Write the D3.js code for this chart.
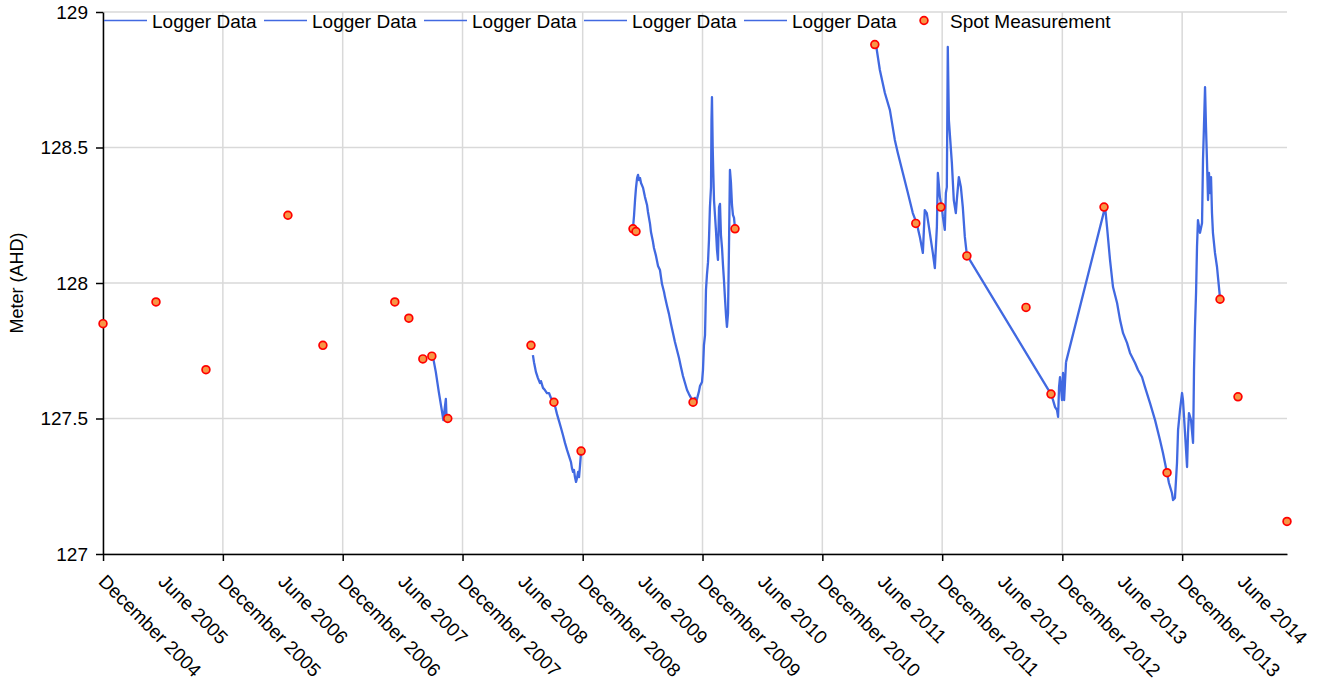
<!DOCTYPE html>
<html>
<head>
<meta charset="utf-8">
<script src="https://cdn.jsdelivr.net/npm/d3@7"></script>
<style>
  body { margin: 0; background: #fff; }
  svg { font-family: Arial, "Liberation Sans", sans-serif; }
</style>
</head>
<body>
<div id="chart"></div>
<script>
const spotYears = [2004.915, 2005.357, 2005.774, 2006.458, 2006.750, 2007.350, 2007.467, 2007.584, 2007.659, 2007.792,
  2008.485, 2008.676, 2008.902, 2009.335, 2009.360, 2009.836, 2010.186, 2011.353, 2011.695, 2011.904,
  2012.121, 2012.613, 2012.821, 2013.263, 2013.789, 2014.231, 2014.381, 2014.790];
const spotLevels = [127.85, 127.93, 127.68, 128.25, 127.77, 127.93, 127.87, 127.72, 127.73, 127.50,
  127.77, 127.56, 127.38, 128.20, 128.19, 127.56, 128.20, 128.88, 128.22, 128.28,
  128.10, 127.91, 127.59, 128.28, 127.30, 127.94, 127.58, 127.12];

const logger1Years = [2007.667, 2007.692, 2007.717, 2007.742, 2007.755, 2007.767, 2007.776, 2007.780, 2007.784, 2007.792];
const logger1Levels = [127.731, 127.672, 127.598, 127.531, 127.494, 127.539, 127.572, 127.524, 127.491, 127.502];

const logger2Years = [2008.501, 2008.510, 2008.518, 2008.526, 2008.543, 2008.560, 2008.568, 2008.585, 2008.601, 2008.618,
  2008.635, 2008.651, 2008.668, 2008.685, 2008.701, 2008.718, 2008.735, 2008.751, 2008.768, 2008.785,
  2008.801, 2008.818, 2008.826, 2008.835, 2008.843, 2008.851, 2008.860, 2008.868, 2008.877, 2008.885,
  2008.893, 2008.902];
const logger2Levels = [127.734, 127.708, 127.690, 127.672, 127.649, 127.631, 127.638, 127.613, 127.605, 127.594,
  127.594, 127.576, 127.565, 127.546, 127.517, 127.491, 127.465, 127.439, 127.410, 127.384,
  127.362, 127.339, 127.317, 127.303, 127.310, 127.284, 127.266, 127.280, 127.303, 127.284,
  127.325, 127.376];

const logger3Years = [2009.335, 2009.344, 2009.352, 2009.360, 2009.369, 2009.377, 2009.385, 2009.394, 2009.402, 2009.419,
  2009.435, 2009.452, 2009.460, 2009.477, 2009.485, 2009.502, 2009.510, 2009.527, 2009.544, 2009.560,
  2009.577, 2009.594, 2009.602, 2009.619, 2009.635, 2009.652, 2009.669, 2009.685, 2009.702, 2009.719,
  2009.735, 2009.752, 2009.769, 2009.786, 2009.802, 2009.819, 2009.827, 2009.836, 2009.852, 2009.861,
  2009.869, 2009.886, 2009.894, 2009.911, 2009.919, 2009.927, 2009.936, 2009.944, 2009.952, 2009.961,
  2009.969, 2009.977, 2009.986, 2009.990, 2009.994, 2010.000, 2010.005, 2010.011, 2010.019, 2010.028,
  2010.036, 2010.044, 2010.053, 2010.061, 2010.069, 2010.078, 2010.086, 2010.094, 2010.102, 2010.111,
  2010.119, 2010.128, 2010.136, 2010.144, 2010.152, 2010.161, 2010.169, 2010.178, 2010.186];
const logger3Levels = [128.203, 128.251, 128.306, 128.351, 128.387, 128.399, 128.380, 128.387, 128.369, 128.351,
  128.317, 128.288, 128.262, 128.218, 128.188, 128.151, 128.129, 128.100, 128.063, 128.048,
  127.996, 127.967, 127.948, 127.915, 127.886, 127.849, 127.815, 127.782, 127.753, 127.723,
  127.690, 127.657, 127.631, 127.605, 127.590, 127.576, 127.554, 127.561, 127.576, 127.557,
  127.572, 127.601, 127.620, 127.635, 127.679, 127.771, 127.808, 127.974, 128.030, 128.077,
  128.159, 128.280, 128.354, 128.601, 128.686, 128.502, 128.406, 128.306, 128.251, 128.188,
  128.122, 128.085, 128.280, 128.292, 128.177, 128.129, 128.066, 128.011, 127.948, 127.882,
  127.838, 127.889, 128.133, 128.417, 128.373, 128.288, 128.251, 128.240, 128.203];

const logger4Years = [2011.362, 2011.395, 2011.437, 2011.479, 2011.520, 2011.545, 2011.587, 2011.629, 2011.670, 2011.704,
  2011.729, 2011.754, 2011.770, 2011.787, 2011.812, 2011.837, 2011.854, 2011.871, 2011.879, 2011.896,
  2011.912, 2011.921, 2011.937, 2011.946, 2011.954, 2011.962, 2011.971, 2011.996, 2012.012, 2012.029,
  2012.037, 2012.054, 2012.071, 2012.087, 2012.104, 2012.121, 2012.821, 2012.838, 2012.855, 2012.871,
  2012.880, 2012.888, 2012.896, 2012.913, 2012.921, 2012.930, 2012.946];
const logger4Levels = [128.882, 128.786, 128.701, 128.638, 128.528, 128.480, 128.406, 128.332, 128.258, 128.218,
  128.170, 128.111, 128.269, 128.258, 128.185, 128.111, 128.055, 128.207, 128.406, 128.317,
  128.280, 128.244, 128.196, 128.332, 128.354, 128.871, 128.601, 128.443, 128.306, 128.258,
  128.306, 128.391, 128.354, 128.280, 128.170, 128.103, 127.590, 127.568, 127.542, 127.531,
  127.506, 127.616, 127.653, 127.568, 127.668, 127.568, 127.708];

const logger5Years = [2012.946, 2013.272, 2013.288, 2013.313, 2013.338, 2013.372, 2013.397, 2013.422, 2013.455, 2013.480,
  2013.522, 2013.547, 2013.580, 2013.605, 2013.647, 2013.689, 2013.730, 2013.755, 2013.789, 2013.805,
  2013.830, 2013.839, 2013.855, 2013.872, 2013.881, 2013.897, 2013.914, 2013.922, 2013.939, 2013.956,
  2013.964, 2013.972, 2013.989, 2014.006, 2014.010, 2014.014, 2014.022, 2014.031, 2014.039, 2014.047,
  2014.064, 2014.081, 2014.089, 2014.097, 2014.106, 2014.114, 2014.122, 2014.131, 2014.139, 2014.147,
  2014.156, 2014.164, 2014.172, 2014.189, 2014.206, 2014.214, 2014.231];
const logger5Levels = [127.708, 128.280, 128.207, 128.085, 127.985, 127.926, 127.863, 127.815, 127.779, 127.742,
  127.705, 127.679, 127.653, 127.616, 127.557, 127.494, 127.421, 127.373, 127.299, 127.262,
  127.225, 127.199, 127.207, 127.336, 127.458, 127.531, 127.594, 127.568, 127.446, 127.321,
  127.446, 127.520, 127.494, 127.410, 127.531, 127.679, 127.838, 127.963, 128.133, 128.232,
  128.185, 128.221, 128.454, 128.576, 128.723, 128.576, 128.454, 128.306, 128.406, 128.332,
  128.391, 128.258, 128.185, 128.111, 128.059, 128.022, 127.945];

const loggerYears = [logger1Years, logger2Years, logger3Years, logger4Years, logger5Years];
const loggerLevels = [logger1Levels, logger2Levels, logger3Levels, logger4Levels, logger5Levels];
const yTicks = [127, 127.5, 128, 128.5, 129];

// decimal year -> Date
function toDate(d) {
  const yr = Math.floor(d);
  const start = Date.UTC(yr, 0, 1), end = Date.UTC(yr + 1, 0, 1);
  return new Date(start + (d - yr) * (end - start));
}

const width = 1320, height = 686;
const margin = {top: 12, right: 33, bottom: 132, left: 103};

const svg = d3.select("#chart")
  .append("svg")
  .attr("width", width)
  .attr("height", height);

const x = d3.scaleUtc()
  .domain([toDate(spotYears[0]), toDate(spotYears[spotYears.length - 1])])
  .range([margin.left, width - margin.right]);

const y = d3.scaleLinear()
  .domain([127, 129])
  .range([height - margin.bottom, margin.top]);

// December and June ticks, grid only on December
const xTicks = d3.utcMonth.range(x.domain()[0], x.domain()[1])
  .filter(d => d.getUTCMonth() === 11 || d.getUTCMonth() === 5);
const decTicks = xTicks.filter(d => d.getUTCMonth() === 11);

// grid
svg.append("g")
  .selectAll("line")
  .data(yTicks)
  .join("line")
  .attr("x1", margin.left)
  .attr("x2", width - margin.right)
  .attr("y1", d => y(d))
  .attr("y2", d => y(d))
  .attr("stroke", "#d9d9d9")
  .attr("stroke-width", 1.5);

svg.append("g")
  .selectAll("line")
  .data(decTicks)
  .join("line")
  .attr("x1", d => x(d))
  .attr("x2", d => x(d))
  .attr("y1", margin.top)
  .attr("y2", height - margin.bottom)
  .attr("stroke", "#d9d9d9")
  .attr("stroke-width", 1.5);

// axes
const xAxis = svg.append("g")
  .attr("transform", "translate(0," + (height - margin.bottom) + ")")
  .call(d3.axisBottom(x)
    .tickValues(xTicks)
    .tickFormat(d3.utcFormat("%B %Y"))
    .tickSize(7)
    .tickSizeOuter(0));

xAxis.selectAll(".tick line")
  .attr("stroke-width", 1.5)
  .attr("opacity", d => d.getUTCMonth() === 11 ? 1 : 0);

xAxis.selectAll(".tick text")
  .attr("font-size", 19)
  .attr("fill", "#000")
  .attr("text-anchor", "start")
  .attr("x", 16)
  .attr("y", 11)
  .attr("dy", "0.71em")
  .attr("transform", "rotate(45)");

const yAxis = svg.append("g")
  .attr("transform", "translate(" + margin.left + ",0)")
  .call(d3.axisLeft(y)
    .tickValues(yTicks)
    .tickFormat(d3.format("~g"))
    .tickSize(7)
    .tickPadding(8)
    .tickSizeOuter(0));

yAxis.selectAll(".tick line").attr("stroke-width", 1.5);
yAxis.selectAll(".tick text").attr("font-size", 19).attr("fill", "#000");
svg.selectAll(".domain").attr("stroke", "#000").attr("stroke-width", 1.5);

svg.append("text")
  .attr("transform", "translate(17," + ((margin.top + height - margin.bottom) / 2) + ") rotate(-90)")
  .attr("text-anchor", "middle")
  .attr("dy", "0.35em")
  .attr("font-size", 18)
  .text("Meter (AHD)");

// logger series
const line = d3.line()
  .x(d => x(toDate(d[0])))
  .y(d => y(d[1]));

loggerYears.forEach((years, i) => {
  svg.append("path")
    .datum(d3.zip(years, loggerLevels[i]))
    .attr("fill", "none")
    .attr("stroke", "royalblue")
    .attr("stroke-width", 2.3)
    .attr("stroke-linejoin", "round")
    .attr("d", line);
});

// spot measurements
svg.append("g")
  .selectAll("circle")
  .data(d3.zip(spotYears, spotLevels))
  .join("circle")
  .attr("cx", d => x(toDate(d[0])))
  .attr("cy", d => y(d[1]))
  .attr("r", 3.9)
  .attr("fill", "#f79646")
  .attr("stroke", "red")
  .attr("stroke-width", 1.7);

// legend
const legend = svg.append("g").attr("font-size", 19);
loggerYears.forEach((years, i) => {
  const lx = 104 + i * 160;
  legend.append("line")
    .attr("x1", lx).attr("x2", lx + 43)
    .attr("y1", 20.5).attr("y2", 20.5)
    .attr("stroke", "royalblue")
    .attr("stroke-width", 1.5);
  legend.append("text")
    .attr("x", lx + 48)
    .attr("y", 21)
    .attr("dy", "0.35em")
    .text("Logger Data");
});
legend.append("circle")
  .attr("cx", 924).attr("cy", 20.5)
  .attr("r", 3.9)
  .attr("fill", "#f79646")
  .attr("stroke", "red")
  .attr("stroke-width", 1.7);
legend.append("text")
  .attr("x", 950)
  .attr("y", 21)
  .attr("dy", "0.35em")
  .text("Spot Measurement");
</script>
</body>
</html>
